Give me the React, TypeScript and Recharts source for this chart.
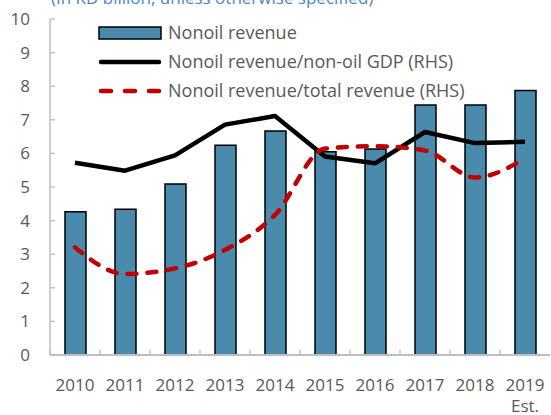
import React from 'react';
import { ComposedChart, Bar, Line, XAxis, YAxis } from 'recharts';

const years = ['2010', '2011', '2012', '2013', '2014', '2015', '2016', '2017', '2018', '2019'];
// KD billion (LHS)
const nonoilRevenue = [4.26, 4.34, 5.09, 6.24, 6.67, 6.05, 6.13, 7.44, 7.44, 7.87];
// percent (RHS)
const revenueToNonoilGdp = [31.3, 30.0, 32.5, 37.5, 38.9, 32.3, 31.2, 36.3, 34.5, 34.7];
const revenueToTotal = [17.5, 13.2, 14.1, 17.1, 22.8, 33.6, 34.0, 33.3, 28.9, 32.0];

const leftTicks = [0, 1, 2, 3, 4, 5, 6, 7, 8, 9, 10];
const rightTicks = [0, 10, 20, 30, 40, 50];
const estimateYear = '2019';

const legendItems = [
  { key: 'bar', label: 'Nonoil revenue' },
  { key: 'gdp', label: 'Nonoil revenue/non-oil GDP (RHS)' },
  { key: 'total', label: 'Nonoil revenue/total revenue (RHS)' },
];

const data = years.map((year, i) => ({
  year,
  revenue: nonoilRevenue[i],
  gdpShare: revenueToNonoilGdp[i],
  totalShare: revenueToTotal[i],
}));

const FONT = '"Open Sans", "Noto Sans", sans-serif';
const TEXT = '#595959';
const FRAME = '#BFBFBF';
const BAR = '#4A8BAD';
const RED = '#C00000';

const LeftTick = ({ x, y, payload }: any) => (
  <g>
    <line x1={x} x2={x + 5} y1={y} y2={y} stroke={FRAME} strokeWidth={1.5} />
    <text x={x - 20} y={y + 6} textAnchor="end" fill={TEXT} fontSize={17} fontFamily={FONT}>
      {payload.value}
    </text>
  </g>
);

const RightTick = ({ x, y }: any) => (
  <line x1={x - 6} x2={x} y1={y} y2={y} stroke={FRAME} strokeWidth={1.5} />
);

const YearTick = ({ x, y, payload }: any) => {
  const half = payload.offset ?? 25;
  return (
    <g>
      <line x1={x - half} x2={x - half} y1={y} y2={y - 5} stroke={FRAME} strokeWidth={1.5} />
      <text x={x} y={y + 36} textAnchor="middle" fill={TEXT} fontSize={17} fontFamily={FONT}>
        {payload.value}
      </text>
      {payload.value === estimateYear && (
        <text x={x} y={y + 57} textAnchor="middle" fill={TEXT} fontSize={17} fontFamily={FONT}>
          Est.
        </text>
      )}
    </g>
  );
};

const LegendOverlay = () => (
  <svg
    width={551}
    height={110}
    style={{ position: 'absolute', left: 0, top: 0, pointerEvents: 'none' }}
  >
    {legendItems.map((item, i) => {
      const cy = 33 + i * 29;
      return (
        <g key={item.key}>
          {item.key === 'bar' && (
            <rect x={99} y={cy - 6} width={62} height={12} fill={BAR} stroke="#000" strokeWidth={1.5} />
          )}
          {item.key === 'gdp' && (
            <line x1={101} x2={159} y1={cy} y2={cy} stroke="#000" strokeWidth={4.5} strokeLinecap="round" />
          )}
          {item.key === 'total' && (
            <line
              x1={101}
              x2={159}
              y1={cy}
              y2={cy}
              stroke={RED}
              strokeWidth={4.5}
              strokeLinecap="round"
              strokeDasharray="10 14"
            />
          )}
          <text x={168} y={cy + 6} fill={TEXT} fontSize={18} fontFamily={FONT}>
            {item.label}
          </text>
        </g>
      );
    })}
  </svg>
);

export default function App() {
  return (
    <div
      style={{
        position: 'absolute',
        left: 0,
        top: 0,
        width: 551,
        height: 415,
        overflow: 'hidden',
        background: '#fff',
      }}
    >
      <div
        style={{
          position: 'absolute',
          left: 51,
          top: -14,
          fontFamily: FONT,
          fontSize: 17,
          color: '#4A86C8',
          whiteSpace: 'nowrap',
        }}
      >
        (In KD billion, unless otherwise specified)
      </div>
      <ComposedChart width={551} height={415} data={data} margin={{ top: 19, right: 1, bottom: 0, left: 0 }}>
        <XAxis
          dataKey="year"
          height={60}
          axisLine={{ stroke: FRAME, strokeWidth: 2 }}
          tickLine={false}
          tickSize={0}
          tickMargin={0}
          interval={0}
          tick={<YearTick />}
        />
        <XAxis
          xAxisId="top"
          dataKey="year"
          orientation="top"
          height={0}
          axisLine={{ stroke: FRAME, strokeWidth: 1.5 }}
          tickLine={false}
          tick={false}
        />
        <YAxis
          yAxisId="left"
          width={50}
          domain={[0, 10]}
          ticks={leftTicks}
          interval={0}
          axisLine={{ stroke: FRAME, strokeWidth: 1.5 }}
          tickLine={false}
          tickSize={0}
          tickMargin={0}
          tick={<LeftTick />}
        />
        <YAxis
          yAxisId="right"
          orientation="right"
          width={0}
          domain={[0, 54.7]}
          ticks={rightTicks}
          interval={0}
          axisLine={{ stroke: FRAME, strokeWidth: 1.5 }}
          tickLine={false}
          tickSize={0}
          tickMargin={0}
          tick={<RightTick />}
        />
        <Bar
          yAxisId="left"
          dataKey="revenue"
          barSize={21}
          fill={BAR}
          stroke="#000"
          strokeWidth={1.5}
          isAnimationActive={false}
        />
        <Line
          yAxisId="right"
          type="linear"
          dataKey="gdpShare"
          stroke="#000"
          strokeWidth={4.5}
          strokeLinejoin="round"
          dot={false}
          activeDot={false}
          isAnimationActive={false}
        />
        <Line
          yAxisId="right"
          type="monotone"
          dataKey="totalShare"
          stroke={RED}
          strokeWidth={4.5}
          strokeDasharray="9 11"
          strokeLinecap="round"
          dot={false}
          activeDot={false}
          isAnimationActive={false}
        />
      </ComposedChart>
      <LegendOverlay />
    </div>
  );
}
